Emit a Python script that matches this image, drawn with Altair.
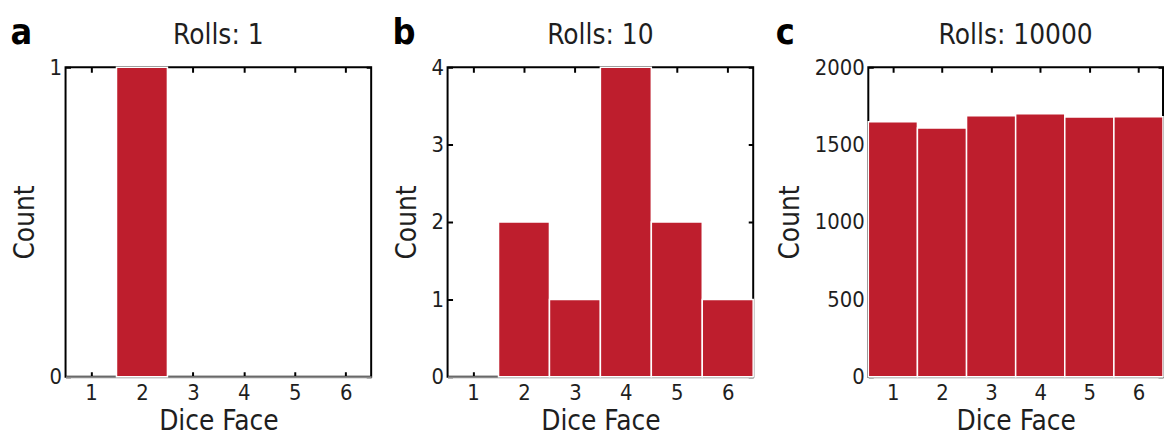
import altair as alt
import pandas as pd

FACES = [1, 2, 3, 4, 5, 6]
LETTERS = ["a", "b", "c"]
ROLLS = [1, 10, 10000]
COUNTS_A = [0, 1, 0, 0, 0, 0]
COUNTS_B = [0, 2, 1, 4, 2, 1]
COUNTS_C = [1648, 1608, 1687, 1699, 1678, 1680]
Y_MAX = [1, 4, 2000]
Y_TICKS = [[0, 1], [0, 1, 2, 3, 4], [0, 500, 1000, 1500, 2000]]

FONT = "DejaVu Sans Condensed, Liberation Sans, Arial, sans-serif"
BAR = "#BE1E2D"
TXT = "#1e1e1e"
WIDTHS = [308, 308, 297]
H = 312
TICK = 5


def panel(letter, rolls, counts, ymax, yticks, width):
    xscale = alt.Scale(domain=[0.5, 6.5], nice=False, zero=False)
    yscale = alt.Scale(domain=[0, ymax], nice=False, zero=True)
    # inward MATLAB-style ticks: dashed grid lines showing only their two ends
    xaxis = alt.Axis(values=FACES, title="Dice Face", format="d",
                     grid=True, gridColor="black", gridWidth=2,
                     gridDash=[TICK, H - 2 * TICK, TICK])
    yaxis = alt.Axis(values=yticks, title="Count", format="d",
                     grid=True, gridColor="black", gridWidth=2,
                     gridDash=[TICK, width - 2 * TICK, TICK])

    bars_df = pd.DataFrame({"face": FACES, "count": counts})
    bars = (
        alt.Chart(bars_df)
        .transform_filter("datum.count > 0")
        .transform_calculate(lo="datum.face - 0.5", hi="datum.face + 0.5", base="0")
        .mark_bar(color=BAR, stroke="white", strokeWidth=1.5)
        .encode(
            x=alt.X("lo:Q", scale=xscale, axis=xaxis),
            x2="hi:Q",
            y=alt.Y("count:Q", scale=yscale, axis=yaxis),
            y2="base:Q",
        )
        .properties(
            width=width,
            height=H,
            title=alt.TitleParams(
                f"Rolls: {rolls}", fontSize=28, font=FONT, fontWeight="normal",
                color=TXT, offset=6,
            ),
        )
    )
    return alt.vconcat(bars).properties(
        title=alt.TitleParams(
            letter, anchor="start", frame="bounds", fontSize=36, font=FONT,
            fontWeight="bold", color="black", offset=-31,
        )
    )


panels = [
    panel(LETTERS[i], ROLLS[i], c, Y_MAX[i], Y_TICKS[i], WIDTHS[i])
    for i, c in enumerate([COUNTS_A, COUNTS_B, COUNTS_C])
]

chart = (
    alt.hconcat(*panels, spacing=20)
    .properties(padding={"left": 2, "top": 6, "right": 0, "bottom": 0})
    .configure_view(stroke="black", strokeWidth=2)
    .configure_axisX(
        domain=True, domainColor="#8c8c8c", domainWidth=2, ticks=False,
        labelFont=FONT, labelFontSize=22, labelColor=TXT, labelPadding=6, labelFlush=False,
        titleFont=FONT, titleFontSize=28, titleFontWeight="normal", titleColor=TXT,
        titlePadding=4,
    )
    .configure_axisY(
        domain=False, ticks=False,
        labelFont=FONT, labelFontSize=22, labelColor=TXT, labelPadding=4, labelFlush=False,
        titleFont=FONT, titleFontSize=28, titleFontWeight="normal", titleColor=TXT,
        titlePadding=10,
    )
)

chart.save("out.html", embed_options={"renderer": "svg", "actions": False})
